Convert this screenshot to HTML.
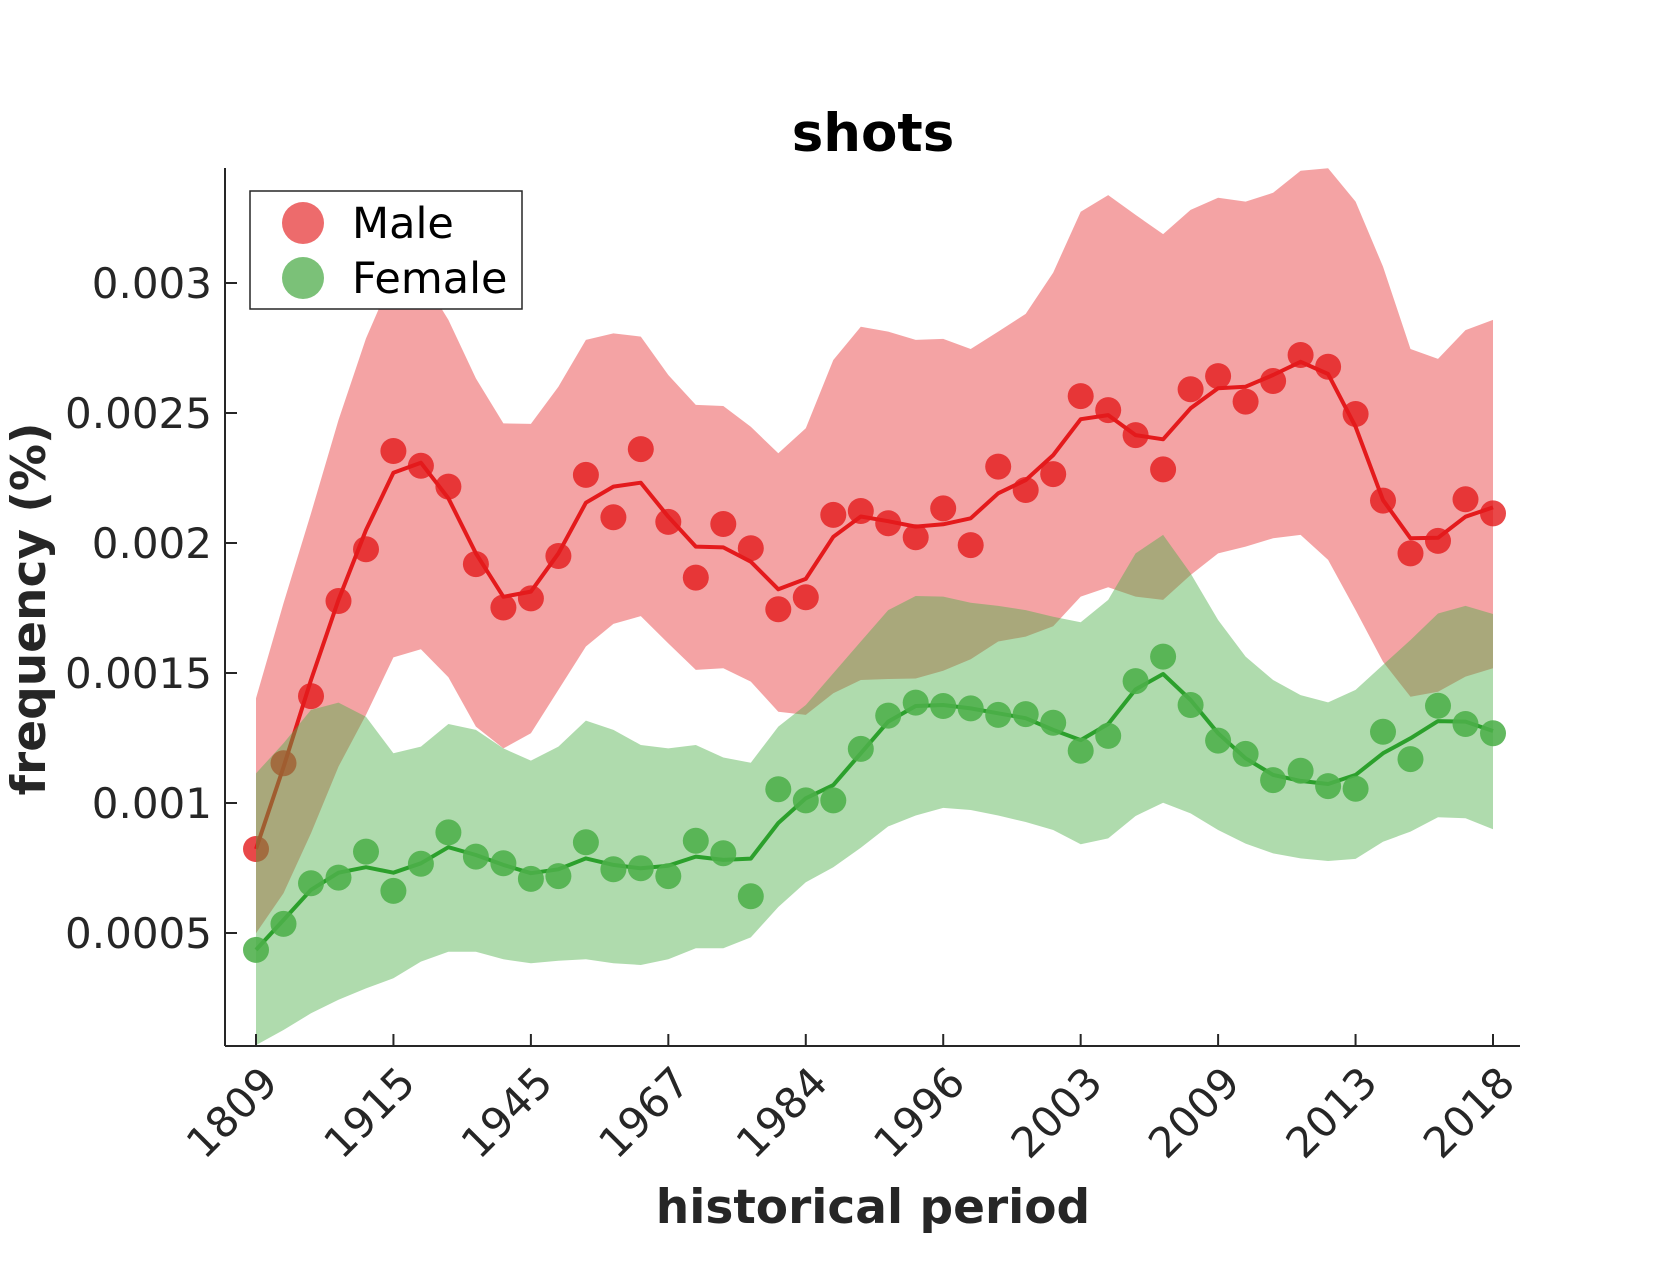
<!DOCTYPE html>
<html><head><meta charset="utf-8"><style>
html,body{margin:0;padding:0;background:#fff;}
svg text{font-family:"DejaVu Sans","Liberation Sans",sans-serif;fill:#262626;}
</style></head><body>
<svg id="chart" width="1680" height="1260" viewBox="0 0 1680 1260" xmlns="http://www.w3.org/2000/svg">
<rect width="1680" height="1260" fill="#fff"/>
<g id="bands"></g>
<g id="axes"></g>
<text x="873" y="151" text-anchor="middle" font-size="53" font-weight="bold" style="fill:#000">shots</text>
<text x="873" y="1223" text-anchor="middle" font-size="47" font-weight="bold">historical period</text>
<text transform="translate(45,609) rotate(-90)" text-anchor="middle" font-size="47" font-weight="bold">frequency (%)</text>
<g>
<rect x="250" y="191" width="272" height="118" fill="#fff" stroke="#262626" stroke-width="1.5"/>
<g>
<ellipse cx="303" cy="223" rx="21" ry="21" fill="#ed6b6c"/>
<text x="352" y="238" font-size="43" style="fill:#000">Male</text></g>
<g>
<ellipse cx="303" cy="278" rx="21" ry="21" fill="#7bc178"/>
<text x="352" y="293" font-size="43" style="fill:#000">Female</text></g>
</g>
</svg>
<script>
const categories = ["1809","","","","","1915","","","","","1945","","","","","1967","","","","","1984","","","","","1996","","","","","2003","","","","","2009","","","","","2013","","","","","2018"];
const yTicks = [0.0005,0.001,0.0015,0.002,0.0025,0.003];
const yTickLabels = ["0.0005","0.001","0.0015","0.002","0.0025","0.003"];
// values in units of 1e-4
const maleDots = [8.23,11.53,14.11,17.77,19.76,23.54,22.97,22.17,19.19,17.52,17.87,19.50,22.62,20.99,23.61,20.81,18.67,20.73,19.80,17.45,17.91,21.08,21.23,20.76,20.22,21.33,19.92,22.94,22.04,22.65,25.65,25.11,24.15,22.83,25.91,26.42,25.44,26.23,27.23,26.78,24.96,21.63,19.60,20.08,21.68,21.14];
const maleLine = [8.23,11.38,14.73,17.81,20.50,22.70,23.09,21.72,19.60,17.93,18.13,19.60,21.55,22.17,22.32,21.01,19.86,19.83,19.28,18.22,18.62,20.24,21.02,20.84,20.63,20.72,20.95,21.91,22.42,23.38,24.76,24.92,24.15,23.99,25.18,25.95,26.01,26.46,26.97,26.50,24.47,21.65,20.18,20.20,21.01,21.37];
const maleUpper = [14.03,17.68,21.14,24.73,27.87,30.3,30.3,28.58,26.33,24.60,24.58,26.01,27.81,28.06,27.94,26.46,25.31,25.27,24.47,23.45,24.41,27.04,28.32,28.13,27.81,27.85,27.46,28.13,28.81,30.40,32.74,33.38,32.62,31.88,32.81,33.28,33.13,33.47,34.32,34.41,33.13,30.63,27.46,27.08,28.19,28.58];
const maleLower = [4.99,6.53,8.84,11.40,13.39,15.60,15.91,14.84,12.94,12.10,12.68,14.35,16.02,16.89,17.19,16.14,15.12,15.18,14.67,13.51,13.39,14.22,14.73,14.77,14.79,15.09,15.53,16.21,16.40,16.80,17.94,18.30,17.94,17.81,18.77,19.60,19.86,20.18,20.31,19.35,17.42,15.43,14.09,14.28,14.86,15.18];
const femaleDots = [4.35,5.35,6.91,7.13,8.13,6.62,7.66,8.87,7.94,7.68,7.08,7.19,8.49,7.45,7.49,7.19,8.55,8.07,6.41,10.53,10.10,10.10,12.08,13.36,13.86,13.73,13.64,13.39,13.42,13.09,12.01,12.58,14.69,15.63,13.77,12.40,11.89,10.88,11.24,10.65,10.55,12.74,11.69,13.74,13.04,12.68];
const femaleLine = [4.35,5.50,6.66,7.32,7.53,7.32,7.68,8.30,8.00,7.62,7.30,7.45,7.87,7.62,7.49,7.59,7.94,7.81,7.86,9.23,10.18,10.69,11.91,13.13,13.73,13.77,13.64,13.45,13.26,12.81,12.42,13.04,14.37,14.96,13.96,12.68,11.72,11.08,10.85,10.73,11.08,11.91,12.49,13.15,13.13,12.77];
const femaleUpper = [11.14,12.30,13.58,13.86,13.32,11.91,12.17,13.04,12.81,12.10,11.63,12.17,13.17,12.81,12.23,12.10,12.23,11.75,11.55,12.94,13.77,14.99,16.21,17.42,17.96,17.94,17.70,17.58,17.42,17.16,16.95,17.81,19.60,20.31,18.83,17.04,15.63,14.73,14.15,13.87,14.35,15.31,16.27,17.29,17.58,17.27];
const femaleLower = [0.69,1.27,1.91,2.43,2.87,3.26,3.90,4.28,4.28,3.99,3.84,3.93,3.99,3.84,3.77,3.99,4.41,4.41,4.83,6.00,6.95,7.53,8.28,9.10,9.52,9.81,9.73,9.52,9.27,8.96,8.41,8.64,9.50,10.01,9.60,8.96,8.44,8.06,7.87,7.77,7.85,8.51,8.90,9.45,9.41,8.99];

const NS = "http://www.w3.org/2000/svg";
const X0 = 256, X1 = 1493, AXL = 225, AXR = 1520, AXT = 168, AXB = 1046;
function xPos(i){ return X0 + i * (X1 - X0) / (categories.length - 1); }
function yPos(v){ return 283 + (0.003 - v) / 0.0005 * 130; }
function sc(a){ return a.map(v => v * 1e-4); }
function mk(tag, attrs, parent){
  const e = document.createElementNS(NS, tag);
  for (const k in attrs) e.setAttribute(k, attrs[k]);
  parent.appendChild(e); return e;
}
const bands = document.getElementById('bands');
const axes = document.getElementById('axes');

function band(up, lo, color, op, name){
  const u = sc(up), l = sc(lo);
  let d = "M" + u.map((v,i) => xPos(i).toFixed(1) + "," + yPos(v).toFixed(1)).join(" L");
  for (let i = l.length - 1; i >= 0; i--) d += " L" + xPos(i).toFixed(1) + "," + yPos(l[i]).toFixed(1);
  d += " Z";
  const p = mk('path', {d: d, fill: color, 'fill-opacity': op}, bands);
  
  
}
function line(vals, color, name){
  const v = sc(vals);
  const p = mk('polyline', {points: v.map((y,i) => xPos(i).toFixed(1) + "," + yPos(y).toFixed(1)).join(" "), fill: 'none', stroke: color, 'stroke-width': 4, 'stroke-linejoin': 'round'}, bands);
  
  
}
function dots(vals, color, op, name){
  const g = mk('g', {}, bands);
  
  
  sc(vals).forEach((v,i) => {
    const c = mk('ellipse', {cx: xPos(i).toFixed(1), cy: yPos(v).toFixed(1), rx: 13, ry: 13, fill: color, 'fill-opacity': op}, g);
    
    
  });
}
band(maleUpper, maleLower, '#e41a1c', 0.4, 'male-confidence-band');
dots(maleDots, '#e41a1c', 0.8, 'male');
line(maleLine, '#e41a1c', 'male-trend-line');
band(femaleUpper, femaleLower, '#4daf4a', 0.45, 'female-confidence-band');
line(femaleLine, '#2ca02c', 'female-trend-line');
dots(femaleDots, '#4daf4a', 0.88, 'female');

let s = mk('line', {x1: AXL, y1: AXT, x2: AXL, y2: AXB, stroke: '#262626', 'stroke-width': 2}, axes);


s = mk('line', {x1: AXL, y1: AXB, x2: AXR, y2: AXB, stroke: '#262626', 'stroke-width': 2}, axes);



yTicks.forEach((v,k) => {
  const y = yPos(v);
  const t = mk('line', {x1: AXL, y1: y, x2: AXL + 12, y2: y, stroke: '#262626', 'stroke-width': 2}, axes);
  
  
  const tx = mk('text', {x: 212, y: y + 15, 'text-anchor': 'end', 'font-size': 42}, axes);
  tx.textContent = yTickLabels[k];
  
  
});
categories.forEach((c,i) => {
  if (!c) return;
  const x = xPos(i);
  const t = mk('line', {x1: x, y1: AXB, x2: x, y2: AXB - 12, stroke: '#262626', 'stroke-width': 2}, axes);
  
  
  const tx = mk('text', {x: 0, y: 0, 'text-anchor': 'end', 'font-size': 42, transform: 'translate(' + (x + 24) + ',1085) rotate(-45)'}, axes);
  tx.textContent = c;
  
  
});
</script>
</body></html>
